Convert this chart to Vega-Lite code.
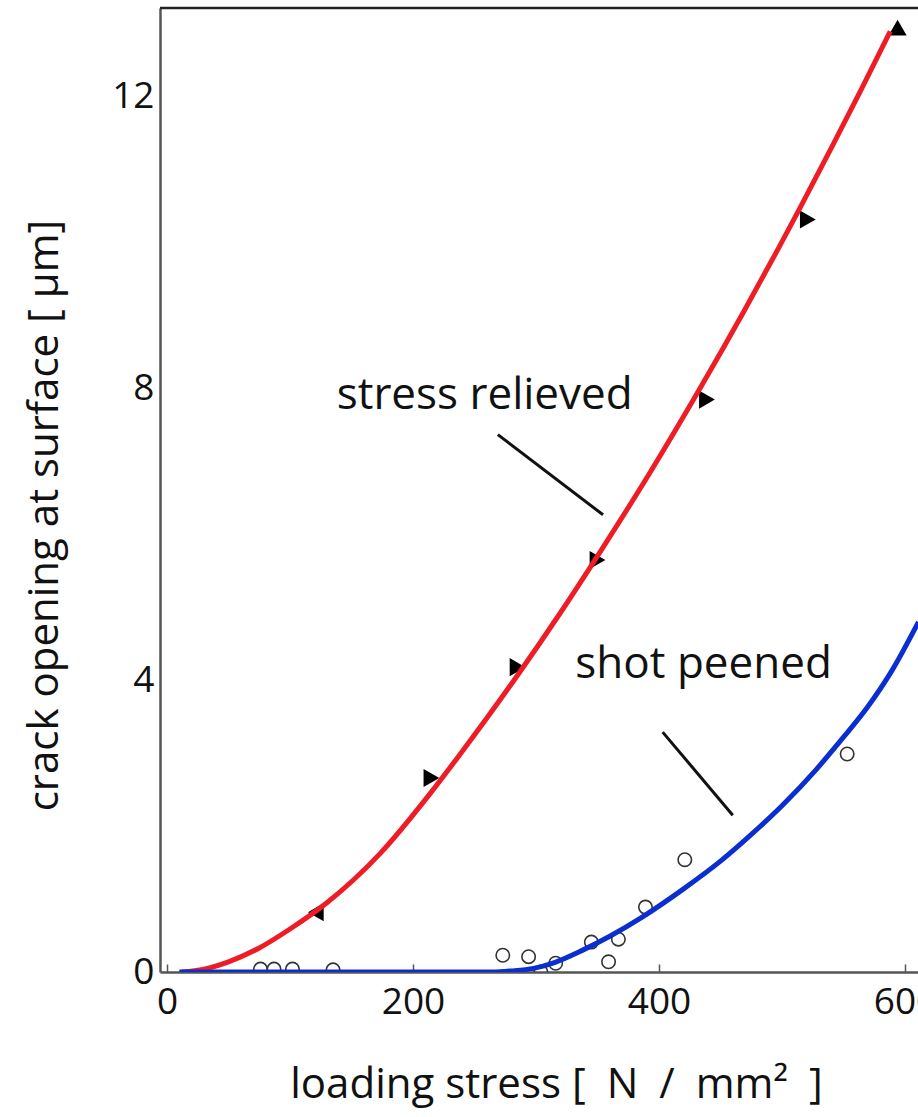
{
  "$schema": "https://vega.github.io/schema/vega-lite/v6.json",
  "width": 758,
  "height": 964,
  "autosize": {"type": "none"},
  "padding": {"left": 160, "top": 8, "right": 0, "bottom": 145},
  "background": "white",
  "config": {
    "view": {"stroke": null},
    "font": "Open Sans",
    "axis": {
      "grid": false,
      "labelFont": "Open Sans",
      "titleFont": "Open Sans",
      "labelColor": "#111",
      "titleColor": "#111",
      "titleFontWeight": "normal",
      "domainColor": "#555",
      "domainWidth": 2.5
    },
    "axisX": {
      "labelFontSize": 37,
      "labelPadding": 20,
      "tickSize": -8,
      "tickColor": "#555",
      "tickWidth": 1.5,
      "titleFontSize": 42,
      "titlePadding": 44,
      "titleX": 396
    },
    "axisY": {
      "labelFontSize": 37,
      "labelPadding": 6,
      "tickSize": 0,
      "titleFontSize": 42,
      "titlePadding": 45,
      "titleY": 507
    }
  },
  "datasets": {
    "relieved_fit": [
      {"stress": 12, "opening": 0.0},
      {"stress": 30, "opening": 0.04},
      {"stress": 50, "opening": 0.14},
      {"stress": 75, "opening": 0.33},
      {"stress": 100, "opening": 0.59},
      {"stress": 130, "opening": 0.95},
      {"stress": 173, "opening": 1.62},
      {"stress": 215, "opening": 2.47},
      {"stress": 238, "opening": 2.98},
      {"stress": 285, "opening": 4.07},
      {"stress": 320, "opening": 4.93},
      {"stress": 354, "opening": 5.81},
      {"stress": 392, "opening": 6.83},
      {"stress": 436, "opening": 8.08},
      {"stress": 470, "opening": 9.09},
      {"stress": 497, "opening": 9.92},
      {"stress": 515, "opening": 10.49},
      {"stress": 541, "opening": 11.33},
      {"stress": 565, "opening": 12.12},
      {"stress": 588, "opening": 12.9}
    ],
    "relieved_meas": [
      {"stress": 121, "opening": 0.82},
      {"stress": 215, "opening": 2.66},
      {"stress": 285, "opening": 4.18},
      {"stress": 350, "opening": 5.65},
      {"stress": 439, "opening": 7.85},
      {"stress": 521, "opening": 10.32},
      {"stress": 594, "opening": 12.95}
    ],
    "peened_fit": [
      {"stress": 10, "opening": 0.0},
      {"stress": 250, "opening": 0.0},
      {"stress": 265, "opening": 0.0},
      {"stress": 280, "opening": 0.015},
      {"stress": 298, "opening": 0.05},
      {"stress": 315, "opening": 0.13},
      {"stress": 338, "opening": 0.3},
      {"stress": 360, "opening": 0.49},
      {"stress": 387, "opening": 0.76},
      {"stress": 420, "opening": 1.14},
      {"stress": 450, "opening": 1.52},
      {"stress": 474, "opening": 1.87},
      {"stress": 500, "opening": 2.28},
      {"stress": 528, "opening": 2.78},
      {"stress": 550, "opening": 3.22},
      {"stress": 569, "opening": 3.62},
      {"stress": 590, "opening": 4.15},
      {"stress": 611, "opening": 4.8}
    ],
    "peened_meas": [
      {"stress": 76, "opening": 0.04},
      {"stress": 87, "opening": 0.04},
      {"stress": 102, "opening": 0.04},
      {"stress": 135, "opening": 0.03},
      {"stress": 273, "opening": 0.23},
      {"stress": 294, "opening": 0.21},
      {"stress": 304, "opening": 0.0},
      {"stress": 316, "opening": 0.12},
      {"stress": 345, "opening": 0.41},
      {"stress": 359, "opening": 0.14},
      {"stress": 367, "opening": 0.45},
      {"stress": 389, "opening": 0.89},
      {"stress": 421, "opening": 1.54},
      {"stress": 553, "opening": 2.99}
    ],
    "pointers": [
      {"stress": 269, "opening": 7.37, "stress_end": 354.5, "opening_end": 6.27},
      {"stress": 403, "opening": 3.29, "stress_end": 460, "opening_end": 2.15}
    ],
    "labels": [
      {"stress": 138, "opening": 7.72, "label": "stress relieved"},
      {"stress": 332, "opening": 4.03, "label": "shot peened"}
    ]
  },
  "layer": [
    {
      "description": "closing line along the top of the plot",
      "data": {"values": [{}]},
      "mark": {"type": "rule", "color": "#222", "strokeWidth": 2.5},
      "encoding": {
        "y": {"datum": 13.22, "type": "quantitative", "title": "crack opening at surface [ μm]",
              "scale": {"domain": [0, 13.22], "nice": false, "zero": false},
              "axis": {"values": [0, 4, 8, 12], "format": "d"}}
      }
    },
    {
      "data": {"name": "peened_meas"},
      "mark": {"type": "point", "shape": "circle", "filled": false, "stroke": "#333", "strokeWidth": 1.6, "size": 180, "opacity": 1, "clip": true},
      "encoding": {
        "x": {"field": "stress", "type": "quantitative", "title": "loading stress [\u2002N\u2002/\u2002mm²\u2002]",
              "scale": {"domain": [-5.7, 610.6], "nice": false, "zero": false},
              "axis": {"values": [0, 200, 400, 600], "format": "d"}},
        "y": {"field": "opening", "type": "quantitative", "title": "crack opening at surface [ μm]",
              "scale": {"domain": [0, 13.22], "nice": false, "zero": false},
              "axis": {"values": [0, 4, 8, 12], "format": "d"}}
      }
    },
    {
      "data": {"name": "relieved_meas"},
      "transform": [{"filter": "datum.stress < 150"}],
      "mark": {"type": "point", "shape": "triangle-left", "filled": true, "color": "#000", "size": 330, "opacity": 1, "clip": true},
      "encoding": {
        "x": {"field": "stress", "type": "quantitative", "title": "loading stress [\u2002N\u2002/\u2002mm²\u2002]",
              "scale": {"domain": [-5.7, 610.6], "nice": false, "zero": false},
              "axis": {"values": [0, 200, 400, 600], "format": "d"}},
        "y": {"field": "opening", "type": "quantitative", "title": "crack opening at surface [ μm]",
              "scale": {"domain": [0, 13.22], "nice": false, "zero": false},
              "axis": {"values": [0, 4, 8, 12], "format": "d"}}
      }
    },
    {
      "data": {"name": "relieved_meas"},
      "transform": [{"filter": "datum.stress >= 150 && datum.stress < 580"}],
      "mark": {"type": "point", "shape": "triangle-right", "filled": true, "color": "#000", "size": 330, "opacity": 1, "clip": true},
      "encoding": {
        "x": {"field": "stress", "type": "quantitative", "title": "loading stress [\u2002N\u2002/\u2002mm²\u2002]",
              "scale": {"domain": [-5.7, 610.6], "nice": false, "zero": false},
              "axis": {"values": [0, 200, 400, 600], "format": "d"}},
        "y": {"field": "opening", "type": "quantitative", "title": "crack opening at surface [ μm]",
              "scale": {"domain": [0, 13.22], "nice": false, "zero": false},
              "axis": {"values": [0, 4, 8, 12], "format": "d"}}
      }
    },
    {
      "data": {"name": "relieved_meas"},
      "transform": [{"filter": "datum.stress >= 580"}],
      "mark": {"type": "point", "shape": "triangle-up", "filled": true, "color": "#000", "size": 330, "opacity": 1, "clip": true},
      "encoding": {
        "x": {"field": "stress", "type": "quantitative", "title": "loading stress [\u2002N\u2002/\u2002mm²\u2002]",
              "scale": {"domain": [-5.7, 610.6], "nice": false, "zero": false},
              "axis": {"values": [0, 200, 400, 600], "format": "d"}},
        "y": {"field": "opening", "type": "quantitative", "title": "crack opening at surface [ μm]",
              "scale": {"domain": [0, 13.22], "nice": false, "zero": false},
              "axis": {"values": [0, 4, 8, 12], "format": "d"}}
      }
    },
    {
      "data": {"name": "relieved_fit"},
      "mark": {"type": "line", "color": "#ee1c24", "strokeWidth": 5, "interpolate": "monotone", "clip": true},
      "encoding": {
        "x": {"field": "stress", "type": "quantitative", "title": "loading stress [\u2002N\u2002/\u2002mm²\u2002]",
              "scale": {"domain": [-5.7, 610.6], "nice": false, "zero": false},
              "axis": {"values": [0, 200, 400, 600], "format": "d"}},
        "y": {"field": "opening", "type": "quantitative", "title": "crack opening at surface [ μm]",
              "scale": {"domain": [0, 13.22], "nice": false, "zero": false},
              "axis": {"values": [0, 4, 8, 12], "format": "d"}}
      }
    },
    {
      "data": {"name": "peened_fit"},
      "mark": {"type": "line", "color": "#0a2ecf", "strokeWidth": 5, "interpolate": "monotone", "clip": true},
      "encoding": {
        "x": {"field": "stress", "type": "quantitative", "title": "loading stress [\u2002N\u2002/\u2002mm²\u2002]",
              "scale": {"domain": [-5.7, 610.6], "nice": false, "zero": false},
              "axis": {"values": [0, 200, 400, 600], "format": "d"}},
        "y": {"field": "opening", "type": "quantitative", "title": "crack opening at surface [ μm]",
              "scale": {"domain": [0, 13.22], "nice": false, "zero": false},
              "axis": {"values": [0, 4, 8, 12], "format": "d"}}
      }
    },
    {
      "data": {"name": "pointers"},
      "mark": {"type": "rule", "color": "#111", "strokeWidth": 3},
      "encoding": {
        "x": {"field": "stress", "type": "quantitative", "title": "loading stress [\u2002N\u2002/\u2002mm²\u2002]",
              "scale": {"domain": [-5.7, 610.6], "nice": false, "zero": false},
              "axis": {"values": [0, 200, 400, 600], "format": "d"}},
        "x2": {"field": "stress_end", "title": "loading stress [\u2002N\u2002/\u2002mm²\u2002]"},
        "y": {"field": "opening", "type": "quantitative", "title": "crack opening at surface [ μm]",
              "scale": {"domain": [0, 13.22], "nice": false, "zero": false},
              "axis": {"values": [0, 4, 8, 12], "format": "d"}},
        "y2": {"field": "opening_end", "title": "crack opening at surface [ μm]"}
      }
    },
    {
      "data": {"name": "labels"},
      "mark": {"type": "text", "align": "left", "baseline": "alphabetic", "fontSize": 44, "font": "Open Sans", "color": "#111"},
      "encoding": {
        "x": {"field": "stress", "type": "quantitative", "title": "loading stress [\u2002N\u2002/\u2002mm²\u2002]",
              "scale": {"domain": [-5.7, 610.6], "nice": false, "zero": false},
              "axis": {"values": [0, 200, 400, 600], "format": "d"}},
        "y": {"field": "opening", "type": "quantitative", "title": "crack opening at surface [ μm]",
              "scale": {"domain": [0, 13.22], "nice": false, "zero": false},
              "axis": {"values": [0, 4, 8, 12], "format": "d"}},
        "text": {"field": "label", "type": "nominal"}
      }
    }
  ]
}
